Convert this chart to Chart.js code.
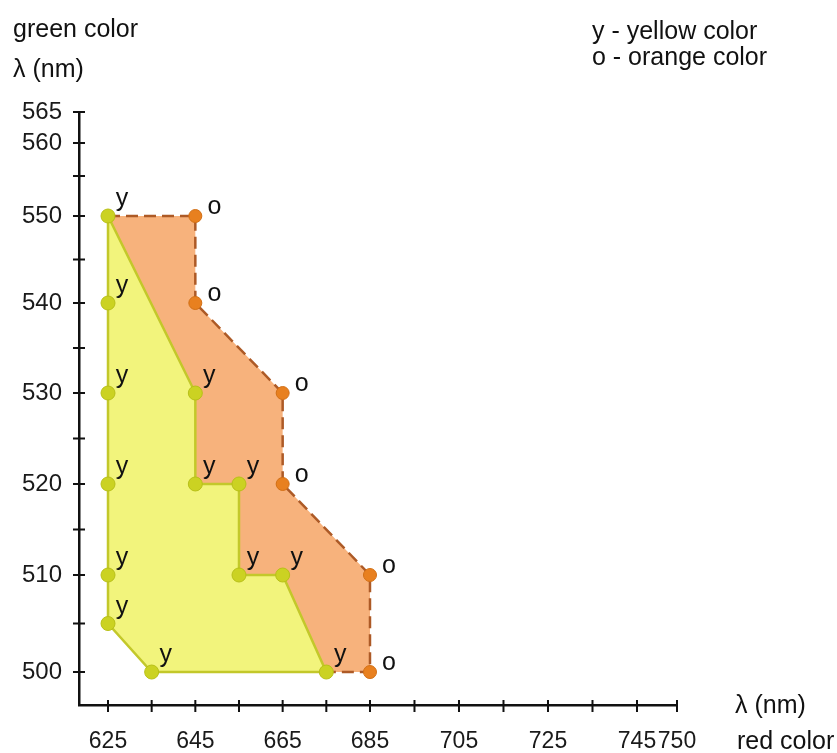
<!DOCTYPE html>
<html>
<head>
<meta charset="utf-8">
<script src="https://cdn.jsdelivr.net/npm/chart.js@4.4.0/dist/chart.umd.min.js"></script>
<style>
  html, body { margin: 0; padding: 0; background: #fff; }
  canvas { display: block; }
</style>
</head>
<body>
<canvas id="colorChart" width="837" height="753"></canvas>
<script>
// wavelengths in nm: red on x, green on y
const yellowRed   = [625, 625, 625, 625, 625, 625, 635, 675, 665, 655, 655, 645, 645];
const yellowGreen = [550, 540, 530, 520, 510, 505, 500, 500, 510, 510, 520, 520, 530];
const orangeRed   = [645, 645, 665, 665, 685, 685];
const orangeGreen = [550, 540, 530, 520, 510, 500];

const xTicks  = [625, 635, 645, 655, 665, 675, 685, 695, 705, 715, 725, 735, 745, 750];
const xLabels = [625, 645, 665, 685, 705, 725, 745, 750];
const yTicks  = [500, 505, 510, 515, 520, 525, 530, 535, 540, 545, 550, 555, 560, 565];
const yLabels = [500, 510, 520, 530, 540, 550, 560, 565];

// the drawn axes are not evenly spaced, so map value -> fraction of the axis piecewise
const axisBreaks = {
  x: [[618.4, 0], [625, 0.0485], [685, 0.4866], [745, 0.9331], [750, 1]],
  y: [[496.6, 0], [500, 0.0556], [510, 0.2192], [520, 0.3727], [530, 0.5261],
      [540, 0.6779], [550, 0.8246], [555, 0.8921], [560, 0.9477], [565, 1]]
};

function toDecimal(breaks, v) {
  let i = 1;
  while (i < breaks.length - 1 && v > breaks[i][0]) i++;
  const [v0, d0] = breaks[i - 1];
  const [v1, d1] = breaks[i];
  return d0 + (v - v0) * (d1 - d0) / (v1 - v0);
}
function fromDecimal(breaks, d) {
  let i = 1;
  while (i < breaks.length - 1 && d > breaks[i][1]) i++;
  const [v0, d0] = breaks[i - 1];
  const [v1, d1] = breaks[i];
  return v0 + (d - d0) * (v1 - v0) / (d1 - d0);
}

class BrokenScale extends Chart.LinearScale {
  getPixelForValue(value) {
    if (value === null || value === undefined) return NaN;
    return this.getPixelForDecimal(toDecimal(axisBreaks[this.id], value));
  }
  getValueForPixel(pixel) {
    return fromDecimal(axisBreaks[this.id], this.getDecimalForPixel(pixel));
  }
}
BrokenScale.id = 'broken';
BrokenScale.defaults = Chart.LinearScale.defaults;
Chart.register(BrokenScale);

const yellowPts = yellowRed.map((x, i) => ({x, y: yellowGreen[i]}));
const orangePts = orangeRed.map((x, i) => ({x, y: orangeGreen[i]}));
const outerEdge = [yellowPts[0], ...orangePts, yellowPts[7]];
const orangeArea = [...outerEdge, ...yellowPts.slice(8)];

const FONT = '"Liberation Sans", Arial, sans-serif';

const extras = {
  id: 'extras',
  afterDraw(chart) {
    const {ctx, chartArea, scales: {x, y}} = chart;
    ctx.save();
    // tick marks crossing the axes
    ctx.strokeStyle = '#111';
    ctx.lineWidth = 2;
    ctx.beginPath();
    x.ticks.forEach(t => {
      const px = x.getPixelForValue(t.value);
      ctx.moveTo(px, chartArea.bottom - 5);
      ctx.lineTo(px, chartArea.bottom + 7);
    });
    y.ticks.forEach(t => {
      const py = y.getPixelForValue(t.value);
      ctx.moveTo(chartArea.left - 6, py);
      ctx.lineTo(chartArea.left + 6, py);
    });
    ctx.stroke();

    // y / o letters next to points
    ctx.fillStyle = '#111';
    ctx.font = '25px ' + FONT;
    ctx.textAlign = 'center';
    ctx.textBaseline = 'alphabetic';
    chart.data.datasets.forEach((ds, i) => {
      if (!ds.code) return;
      const dx = ds.code === 'y' ? 14 : 19;
      const dy = ds.code === 'y' ? -10 : -2;
      chart.getDatasetMeta(i).data.forEach(el => {
        ctx.fillText(ds.code, el.x + dx, el.y + dy);
      });
    });

    // axis captions and key
    ctx.textAlign = 'left';
    ctx.fillText('green color', 13, 37);
    ctx.fillText('λ (nm)', 13, 77);
    ctx.fillText('y - yellow color', 592, 39);
    ctx.fillText('o - orange color', 592, 65);
    ctx.fillText('λ (nm)', 735, 713);
    ctx.fillText('red color', 737, 749);
    ctx.restore();
  }
};

new Chart(document.getElementById('colorChart'), {
  type: 'line',
  data: {
    datasets: [
      {
        data: yellowPts, code: 'y', showLine: false, order: 0,
        pointRadius: 7, pointBackgroundColor: '#cbd222',
        pointBorderColor: '#b8c018', pointBorderWidth: 1
      },
      {
        data: orangePts, code: 'o', showLine: false, order: 1,
        pointRadius: 6.5, pointBackgroundColor: '#e8801f',
        pointBorderColor: '#d26f15', pointBorderWidth: 1
      },
      {
        data: [...yellowPts, yellowPts[0]], order: 2,
        borderColor: '#c3c82a', borderWidth: 2.5,
        backgroundColor: '#f2f47c', fill: 'shape', pointRadius: 0
      },
      {
        data: outerEdge, order: 3,
        borderColor: '#ad5a26', borderWidth: 2.5, borderDash: [12, 6],
        fill: false, pointRadius: 0
      },
      {
        data: orangeArea, order: 4,
        borderColor: 'rgba(0,0,0,0)', borderWidth: 0,
        backgroundColor: '#f7b27c', fill: 'shape', pointRadius: 0
      }
    ]
  },
  options: {
    responsive: false,
    animation: false,
    events: [],
    layout: { padding: { top: 112, right: 160, bottom: 0, left: 0 } },
    plugins: {
      legend: { display: false },
      tooltip: { enabled: false }
    },
    scales: {
      x: {
        type: 'broken',
        bounds: 'data',
        min: 618.4,
        max: 750,
        afterFit: s => { s.height = 48; },
        afterBuildTicks: s => { s.ticks = xTicks.map(v => ({value: v})); },
        grid: { display: false, drawTicks: false },
        border: { display: true, color: '#111', width: 2.5 },
        ticks: {
          autoSkip: false,
          maxRotation: 0,
          padding: 23,
          color: '#1a1a1a',
          font: { family: FONT, size: 23 },
          callback: v => xLabels.includes(v) ? String(v) : ''
        }
      },
      y: {
        type: 'broken',
        bounds: 'data',
        min: 496.6,
        max: 565,
        afterFit: s => { s.width = 79; },
        afterBuildTicks: s => { s.ticks = yTicks.map(v => ({value: v})); },
        grid: { display: false, drawTicks: false },
        border: { display: true, color: '#111', width: 2.5 },
        ticks: {
          autoSkip: false,
          padding: 17,
          color: '#1a1a1a',
          font: { family: FONT, size: 24 },
          callback: v => yLabels.includes(v) ? String(v) : ''
        }
      }
    }
  },
  plugins: [extras]
});
</script>
</body>
</html>
